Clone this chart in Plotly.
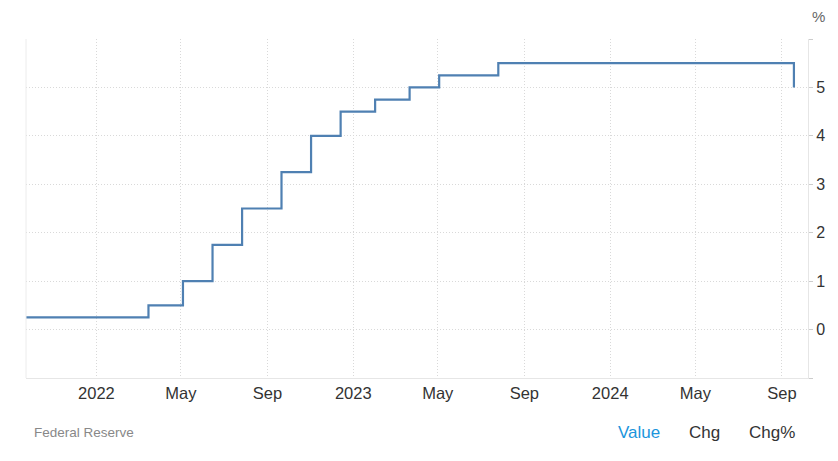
import plotly.graph_objects as go

dates = ["2021-09-22", "2022-03-16", "2022-05-04", "2022-06-15", "2022-07-27",
         "2022-09-21", "2022-11-02", "2022-12-14", "2023-02-01", "2023-03-22",
         "2023-05-03", "2023-07-26", "2024-09-18"]
rates = [0.25, 0.5, 1.0, 1.75, 2.5, 3.25, 4.0, 4.5, 4.75, 5.0, 5.25, 5.5, 5.0]

x_tickvals = ["2022-01-01", "2022-05-01", "2022-09-01", "2023-01-01", "2023-05-01",
              "2023-09-01", "2024-01-01", "2024-05-01", "2024-09-01"]
x_ticktext = ["2022", "May", "Sep", "2023", "May", "Sep", "2024", "May", "Sep"]
y_tickvals = [-1, 0, 1, 2, 3, 4, 5, 6]
y_ticktext = ["", "0", "1", "2", "3", "4", "5", ""]

fig = go.Figure()
fig.add_trace(go.Scatter(
    x=dates, y=rates, mode="lines", line=dict(shape="hv", color="#4f80b2", width=2.2),
    showlegend=False, hoverinfo="x+y"))

font = "Liberation Sans, Arial, Helvetica, sans-serif"
grid_dash = "1px,2px"
fig.update_layout(
    width=838, height=461,
    margin=dict(l=26, r=30, t=39, b=83),
    paper_bgcolor="white", plot_bgcolor="white",
    font=dict(family=font, color="#333333", size=14),
    xaxis=dict(
        range=["2021-09-23", "2024-10-08"],
        tickvals=x_tickvals, ticktext=x_ticktext,
        showgrid=True, gridcolor="#d9d9d9", griddash=grid_dash, gridwidth=1,
        showline=True, linecolor="#e6e6e6", linewidth=1, mirror=False,
        ticks="", tickfont=dict(size=16.5, color="#333333"), zeroline=False,
    ),
    yaxis=dict(
        range=[-1, 6], side="right",
        tickvals=y_tickvals, ticktext=y_ticktext,
        showgrid=True, gridcolor="#d9d9d9", griddash=grid_dash, gridwidth=1,
        showline=True, linecolor="#e6e6e6", linewidth=1,
        ticks="outside", ticklen=4, tickcolor="#cccccc",
        tickfont=dict(size=16, color="#333333"), zeroline=False,
    ),
)
fig.add_shape(type="line", xref="paper", yref="paper", x0=0, x1=0, y0=0, y1=1,
              line=dict(color="#ececec", width=1))

fig.add_annotation(text="%", xref="paper", yref="paper", x=1.0 + 10/782, y=1.0 + 22/339,
                   xanchor="center", yanchor="middle", showarrow=False,
                   font=dict(size=15, color="#666666"))
fig.add_annotation(text="Federal Reserve", xref="paper", yref="paper", x=6/782, y=-54/339,
                   xanchor="left", yanchor="middle", showarrow=False,
                   font=dict(size=13.5, color="#888888"))
for label, cx, col in [("Value", 638.5, "#1b95dc"), ("Chg", 704.5, "#333333"), ("Chg%", 771.5, "#333333")]:
    fig.add_annotation(text=label, xref="paper", yref="paper", x=(cx - 26)/782, y=-54/339,
                       xanchor="center", yanchor="middle", showarrow=False,
                       font=dict(size=17, color=col))

fig.write_html("out.html")
